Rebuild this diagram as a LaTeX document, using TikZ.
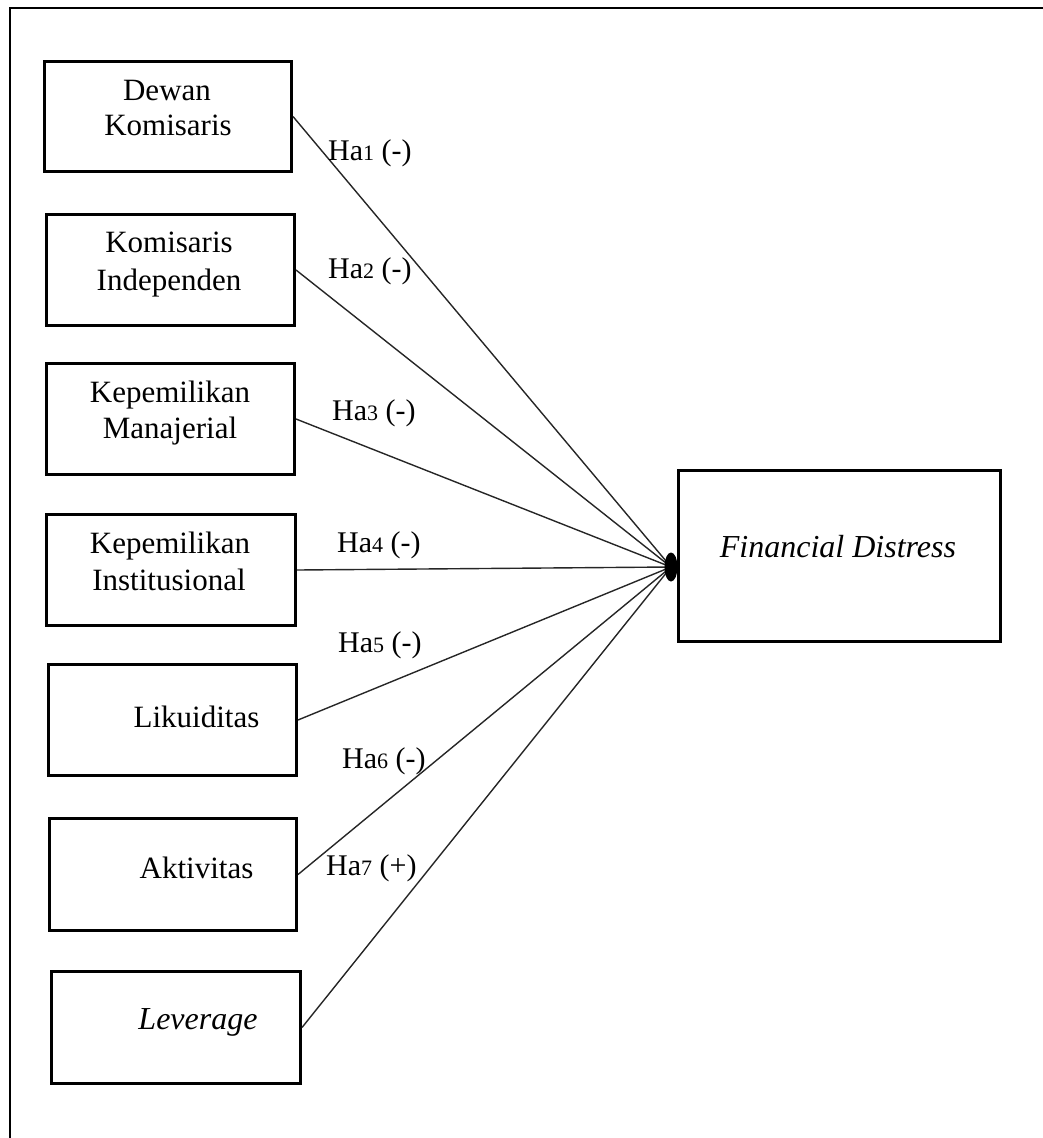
\documentclass[tikz,border=0pt]{standalone}
\usepackage{fontspec}
\setmainfont{Liberation Serif}
\usetikzlibrary{shapes.geometric}
\begin{document}
\begin{tikzpicture}[x=1pt,y=-1pt,
  varbox/.style={draw,line width=3pt,rectangle,inner sep=0pt},
  boxtxt/.style={anchor=base,inner sep=0pt,font=\fontsize{31}{36}\selectfont},
  hyp/.style={anchor=base west,inner sep=0pt,font=\fontsize{30}{34}\selectfont},
  conn/.style={line width=1.4pt,draw=black!85}]
\useasboundingbox (0,0) rectangle (1042,1138);
% frame (only top and left edges are visible)
\draw[line width=2.2pt] (10,1140) -- (10,8) -- (1044,8);
% boxes
\node[varbox,minimum width=247pt,minimum height=110pt] (b1) at (168,116.5) {};
\node[varbox,minimum width=248pt,minimum height=111pt] (b2) at (170.5,270) {};
\node[varbox,minimum width=248pt,minimum height=111pt] (b3) at (170.5,419) {};
\node[varbox,minimum width=249pt,minimum height=111pt] (b4) at (171,570) {};
\node[varbox,minimum width=248pt,minimum height=111pt] (b5) at (172.5,720) {};
\node[varbox,minimum width=247pt,minimum height=112pt] (b6) at (173,874.5) {};
\node[varbox,minimum width=249pt,minimum height=112pt] (b7) at (176,1027.5) {};
\node[varbox,minimum width=322pt,minimum height=171pt] (fd) at (839.5,556) {};
% box texts
\node[boxtxt] (t1a) at (167,100) {Dewan};
\node[boxtxt] (t1b) at (168,135) {Komisaris};
\node[boxtxt] (t2a) at (169,252) {Komisaris};
\node[boxtxt] (t2b) at (169,290) {Independen};
\node[boxtxt] (t3a) at (170,402) {Kepemilikan};
\node[boxtxt] (t3b) at (170,438) {Manajerial};
\node[boxtxt] (t4a) at (170,553) {Kepemilikan};
\node[boxtxt] (t4b) at (169,590) {Institusional};
\node[boxtxt] (t5) at (196.5,727) {Likuiditas};
\node[boxtxt] (t6) at (196.5,878) {Aktivitas};
\node[boxtxt,font=\fontsize{32}{36}\selectfont\itshape] (t7) at (198,1029) {Leverage};
\node[boxtxt,font=\fontsize{32}{36}\selectfont\itshape] (tfd) at (838,557) {Financial Distress};
% convergence point
\coordinate (dotc) at (671,567);
\draw[conn] (b1.east) -- (dotc);
\draw[conn] (b2.east) -- (dotc);
\draw[conn] (b3.east) -- (dotc);
\draw[conn] (b4.east) -- (dotc);
\draw[conn] (b5.east) -- (dotc);
\draw[conn] (b6.east) -- (dotc);
\draw[conn] (b7.east) -- (dotc);
\node[ellipse,fill=black,minimum width=13pt,minimum height=29pt,inner sep=0pt] (dot) at (dotc) {};
% hypothesis labels
\newcommand{\hdig}[1]{{\fontsize{22}{24}\selectfont #1}}
\node[hyp] (h1) at (328,160) {Ha\hdig{1} (-)};
\node[hyp] (h2) at (328,278) {Ha\hdig{2} (-)};
\node[hyp] (h3) at (332,420) {Ha\hdig{3} (-)};
\node[hyp] (h4) at (337,552) {Ha\hdig{4} (-)};
\node[hyp] (h5) at (338,652) {Ha\hdig{5} (-)};
\node[hyp] (h6) at (342,768) {Ha\hdig{6} (-)};
\node[hyp] (h7) at (326,875) {Ha\hdig{7} (+)};
\end{tikzpicture}
\end{document}
